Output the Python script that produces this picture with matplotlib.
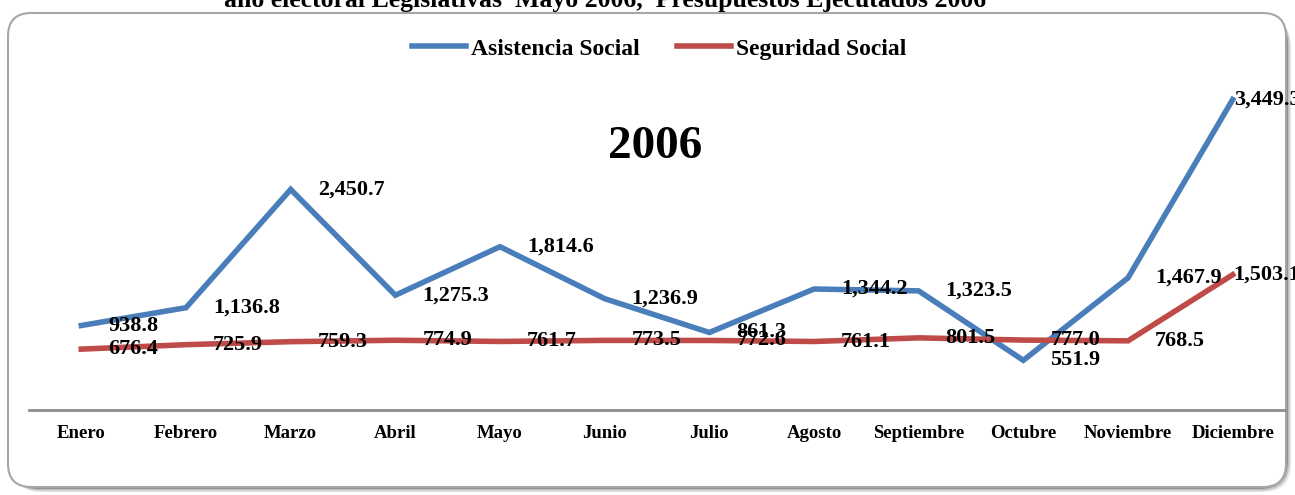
import numpy as np
import matplotlib.pyplot as plt
from matplotlib.patches import FancyBboxPatch

# monthly executed budget, 2006
meses = ['Enero', 'Febrero', 'Marzo', 'Abril', 'Mayo', 'Junio', 'Julio',
         'Agosto', 'Septiembre', 'Octubre', 'Noviembre', 'Diciembre']
asistencia = [938.8, 1136.8, 2450.7, 1275.3, 1814.6, 1236.9, 861.3,
              1344.2, 1323.5, 551.9, 1467.9, 3449.3]
seguridad = [676.4, 725.9, 759.3, 774.9, 761.7, 773.5, 772.6,
             761.1, 801.5, 777.0, 768.5, 1503.1]

azul = '#4a7ebb'
rojo = '#be4b48'
serif = 'Liberation Serif'

W, H = 1295, 495
fig = plt.figure(figsize=(W / 100, H / 100), dpi=100)

# rounded chart frame with a soft shadow
for k, a in enumerate([0.10, 0.16, 0.24]):
    d = 5 - k * 1.5
    fig.patches.append(FancyBboxPatch(((8 + d) / W, (8 - d) / H), 1278 / W, 474 / H,
                                      boxstyle='round,pad=0,rounding_size=0.022',
                                      transform=fig.transFigure, fc='#000000', ec='none',
                                      alpha=a, mutation_aspect=W / H, zorder=0))
fig.patches.append(FancyBboxPatch((8 / W, 8 / H), 1278 / W, 474 / H,
                                  boxstyle='round,pad=0,rounding_size=0.018',
                                  transform=fig.transFigure, fc='white', ec='#a6a6a6',
                                  lw=1.5, mutation_aspect=W / H, zorder=0.5))

fig.text(605 / W, 1 - 7 / H,
         'año electoral Legislativas  Mayo 2006,  Presupuestos Ejecutados 2006',
         ha='center', va='baseline', fontsize=18.5, fontweight='bold', family=serif)

ax = fig.add_axes([29 / W, (H - 410) / H, (1285 - 29) / W, 360 / H])
ax.set_zorder(2)
ax.set_facecolor('none')
x = np.arange(len(meses))
ax.plot(x, asistencia, color=azul, lw=4, label='Asistencia Social',
        solid_joinstyle='miter', zorder=3)
ax.plot(x, seguridad, color=rojo, lw=4, label='Seguridad Social',
        solid_joinstyle='miter', zorder=3)

ax.set_xlim(-0.5, len(meses) - 0.5)
ax.set_ylim(0, 4000)
ax.set_yticks([])
ax.set_xticks(x)
ax.set_xticklabels(meses, fontsize=13.5, fontweight='bold', family=serif)
ax.tick_params(axis='x', length=0, pad=11)
for s in ['top', 'left', 'right']:
    ax.spines[s].set_visible(False)
ax.spines['bottom'].set_color('#8c8c8c')
ax.spines['bottom'].set_linewidth(2)

# value labels to the right of each point
for serie in [asistencia, seguridad]:
    for i, v in enumerate(serie):
        dx = 27 if i < len(serie) - 1 else 1
        ax.annotate(f'{v:,.1f}', (x[i], v), xytext=(dx, 0), textcoords='offset pixels',
                    ha='left', va='center', fontsize=16, fontweight='bold',
                    family=serif, zorder=4, annotation_clip=False)

fig.text(655 / W, 1 - 147 / H, '2006', ha='center', va='center',
         fontsize=34, fontweight='bold', family=serif, zorder=3)

fig.legend(loc='center', bbox_to_anchor=(659 / W, 1 - 49 / H), ncol=2, frameon=False,
           prop={'family': serif, 'weight': 'bold', 'size': 17},
           handlelength=2.3, columnspacing=1.6, handletextpad=0.2).set_zorder(3)

fig.savefig('out.png', dpi=100)
